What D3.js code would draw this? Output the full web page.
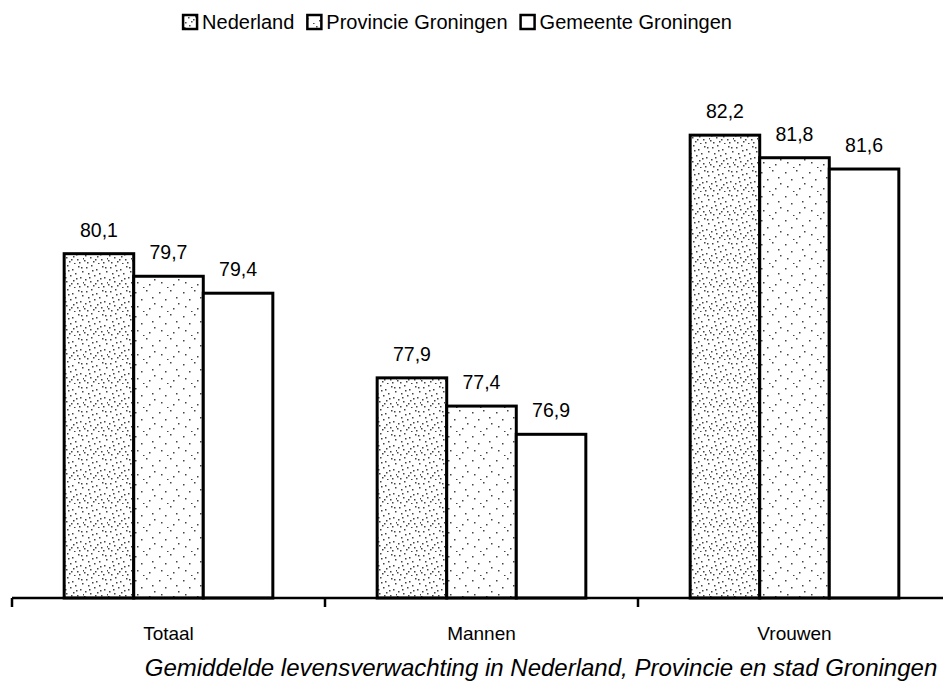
<!DOCTYPE html>
<html>
<head>
<meta charset="utf-8">
<script src="https://cdn.jsdelivr.net/npm/d3@7"></script>
<style>
  html, body { margin: 0; padding: 0; background: #fff; }
  svg { display: block; font-family: "Liberation Sans", Arial, Helvetica, sans-serif; }
</style>
</head>
<body>
<svg id="chart" width="943" height="684"></svg>
<script>
const categories = ["Totaal", "Mannen", "Vrouwen"];
const series = ["Nederland", "Provincie Groningen", "Gemeente Groningen"];
const nederland = [80.1, 77.9, 82.2];
const provincie = [79.7, 77.4, 81.8];
const gemeente  = [79.4, 76.9, 81.6];
const title = "Gemiddelde levensverwachting in Nederland, Provincie en stad Groningen";

const values = [nederland, provincie, gemeente];
const fmt = v => String(v.toFixed(1)).replace(".", ",");

const svg = d3.select("#chart");
const defs = svg.append("defs");

// texture tiles (fixed speckle positions)
const denseDots = [[2,3],[7,1],[12,5],[18,2],[22,7],[4,9],[10,11],[15,9],[20,13],[1,15],[6,17],[13,16],[17,19],[23,18],[3,22],[9,21],[14,23],[19,22],[8,6],[16,14],[11,19],[5,13],[21,3],[0,20]];
const sparseDots = [[3,4],[14,2],[9,11],[20,9],[5,18],[17,20],[11,23],[22,15]];
function makePattern(id, dots) {
  const p = defs.append("pattern").attr("id", id).attr("patternUnits", "userSpaceOnUse")
    .attr("width", 24).attr("height", 24);
  p.append("rect").attr("width", 24).attr("height", 24).attr("fill", "#fff");
  p.selectAll("rect.d").data(dots).join("rect").attr("class", "d")
    .attr("x", d => d[0]).attr("y", d => d[1]).attr("width", 1.5).attr("height", 1.5).attr("fill", "#444");
}
makePattern("patNed", denseDots);
makePattern("patProv", sparseDots);
const fills = ["url(#patNed)", "url(#patProv)", "#fff"];

const x0 = d3.scaleBand().domain(categories).range([12, 951]).padding(0);
const x1 = d3.scaleBand().domain(series).range([0, x0.bandwidth()]).paddingInner(0).paddingOuter(0.75);
const y = d3.scaleLinear().domain([74, 83]).range([598, 90]);

// bars
const groups = svg.append("g").selectAll("g").data(categories).join("g")
  .attr("transform", d => `translate(${x0(d)},0)`);
groups.each(function(cat, ci) {
  const g = d3.select(this);
  series.forEach((s, si) => {
    const v = values[si][ci];
    g.append("rect")
      .attr("x", x1(s)).attr("y", y(v))
      .attr("width", x1.bandwidth()).attr("height", y(74) - y(v))
      .attr("fill", fills[si]).attr("stroke", "#000").attr("stroke-width", 3);
    g.append("text")
      .attr("x", x1(s) + x1.bandwidth() / 2).attr("y", y(v) - 17)
      .attr("text-anchor", "middle").attr("font-size", 19.5).attr("fill", "#000")
      .text(fmt(v));
  });
});

// axis
const axG = svg.append("g").attr("transform", `translate(0,${y(74)})`);
axG.append("line").attr("x1", 12).attr("x2", 943).attr("stroke", "#000").attr("stroke-width", 2.5);
axG.selectAll("line.tk").data(categories).join("line").attr("class", "tk")
  .attr("x1", d => x0(d)).attr("x2", d => x0(d)).attr("y1", 0).attr("y2", 9)
  .attr("stroke", "#000").attr("stroke-width", 2.5);
axG.selectAll("text.cat").data(categories).join("text").attr("class", "cat")
  .attr("x", d => x0(d) + x0.bandwidth() / 2).attr("y", 42)
  .attr("text-anchor", "middle").attr("font-size", 19).text(d => d);

// legend
const leg = svg.append("g");
let lx = 0;
series.forEach((s, i) => {
  const g = leg.append("g");
  g.append("rect").attr("x", lx + 1).attr("y", 15).attr("width", 14).attr("height", 14)
    .attr("fill", fills[i]).attr("stroke", "#000").attr("stroke-width", 2.5);
  const t = g.append("text").attr("x", lx + 20).attr("y", 29).attr("font-size", 20).text(s);
  lx += 20 + t.node().getComputedTextLength() + 12;
});
const legW = lx - 12;
leg.attr("transform", `translate(${457 - legW / 2},0)`);

// title
svg.append("text").attr("x", 541).attr("y", 676).attr("text-anchor", "middle")
  .attr("font-size", 24).attr("font-style", "italic").text(title);
</script>
</body>
</html>
